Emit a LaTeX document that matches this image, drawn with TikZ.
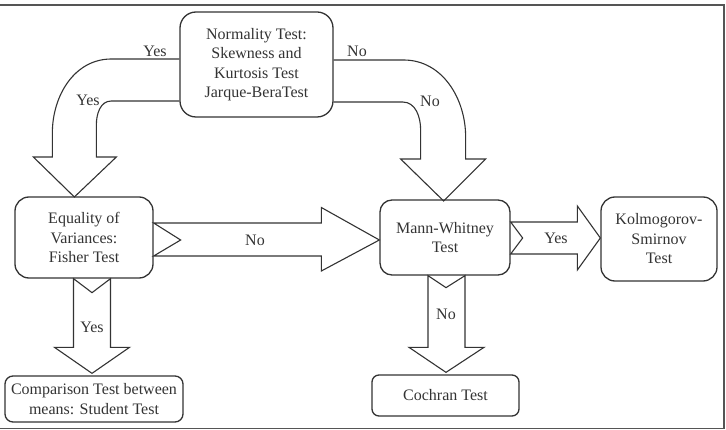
\documentclass[tikz,border=0pt]{standalone}
\usepackage{fontspec}
\setmainfont{Liberation Serif}
\usetikzlibrary{calc}
\definecolor{inkgray}{HTML}{333333}
\definecolor{framegray}{HTML}{555555}

\begin{document}
\begin{tikzpicture}[x=1pt,y=-1pt,line join=miter,
    test node/.style={draw=inkgray,line width=1.3pt,rounded corners=14pt,inner sep=0pt,align=center,text=inkgray,font=\fontsize{16}{19.5}\selectfont},
    block arrow/.style={draw=inkgray,line width=1.1pt},
    answer/.style={text=inkgray,inner sep=0pt,font=\fontsize{16}{19.5}\selectfont}]

\useasboundingbox (0,0) rectangle (726,430);
\draw[framegray,line width=1.5pt] (0,5) -- (724,5) -- (724,428.5) -- (0,428.5);

\node[test node,minimum width=153pt,minimum height=105pt,rounded corners=16pt] (norm) at (256.5,64.5)
    {Normality Test:\\Skewness and\\Kurtosis Test\\Jarque-BeraTest};
\node[test node,minimum width=138pt,minimum height=81pt] (eq) at (84,237.5)
    {Equality of\\Variances:\\Fisher Test};
\node[test node,minimum width=130pt,minimum height=75pt,rounded corners=12pt] (mw) at (445,237.5)
    {Mann-Whitney\\Test};
\node[test node,minimum width=116pt,minimum height=84pt] (ko) at (659,239)
    {Kolmogorov-\\Smirnov\\Test};
\node[test node,minimum width=178pt,minimum height=46pt,rounded corners=8pt] (comp) at (94,399)
    {Comparison Test between\\means: Student Test};
\node[test node,minimum width=147pt,minimum height=41pt,rounded corners=7pt] (coch) at (445.5,395.5)
    {Cochran Test};

% curved arrows out of the normality test
\draw[block arrow] ($(norm.west)+(0,-5.5)$) -- ++(-68,0) to[out=180,in=90] ++(-59,74)
    -- ++(0,24) -- ++(-19,0) -- ++(41,40) -- ++(42,-40) -- ++(-20,0) -- ++(0,-32)
    to[out=90,in=180] ++(15,-24) -- ($(norm.west)+(0,36.5)$);
\draw[block arrow] ($(norm.east)+(0,-4.5)$) -- ++(70,0) to[out=0,in=90] ++(62,77)
    -- ++(0,22) -- ++(20,0) -- ++(-42,42) -- ++(-43,-42) -- ++(20,0) -- ++(0,-29)
    to[out=90,in=0] ++(-18,-28) -- ($(norm.east)+(0,37.5)$);

% straight arrows
\draw[block arrow] ($(eq.east)+(0,-14.5)$) -- ($(mw.west)+(-58,-14.5)$) -- ($(mw.west)+(-58,-30)$)
    -- ($(mw.west)+(0,2.5)$) -- ($(mw.west)+(-58,33.5)$) -- ($(mw.west)+(-58,18.5)$)
    -- ($(eq.east)+(0,18.5)$) -- ($(eq.east)+(27,2.5)$) -- cycle;
\draw[block arrow] ($(mw.east)+(0,-15.5)$) -- ($(ko.west)+(-23,-17)$) -- ($(ko.west)+(-23,-33)$)
    -- ($(ko.west)+(0,-1)$) -- ($(ko.west)+(-23,31)$) -- ($(ko.west)+(-23,15)$)
    -- ($(mw.east)+(0,16.5)$) -- ($(mw.east)+(12,0.5)$) -- cycle;
\draw[block arrow] ($(eq.south -| comp.north)+(-20.5,0)$) -- ($(comp.north)+(-20.5,-28)$)
    -- ($(comp.north)+(-39.5,-28)$) -- ($(comp.north)+(-2,-2)$) -- ($(comp.north)+(35.5,-28)$)
    -- ($(comp.north)+(16.5,-28)$) -- ($(eq.south -| comp.north)+(16.5,0)$)
    -- ($(eq.south -| comp.north)+(-2,14)$) -- cycle;
\draw[block arrow] ($(mw.south)+(-17,0)$) -- ($(coch.north)+(-17.5,-27)$) -- ($(coch.north)+(-36.5,-27)$)
    -- ($(coch.north)+(0.5,-2)$) -- ($(coch.north)+(38.5,-27)$) -- ($(coch.north)+(19.5,-27)$)
    -- ($(mw.south)+(20,0)$) -- ($(mw.south)+(1,12)$) -- cycle;

\node[answer] (yes1) at (155,51) {Yes};
\node[answer] (yes2) at (88,100) {Yes};
\node[answer] (no1) at (357,51) {No};
\node[answer] (no2) at (430,101) {No};
\node[answer] (no3) at (255,240) {No};
\node[answer] (yes3) at (556,238) {Yes};
\node[answer] (yes4) at (92,327) {Yes};
\node[answer] (no4) at (446,314) {No};
\end{tikzpicture}
\end{document}
